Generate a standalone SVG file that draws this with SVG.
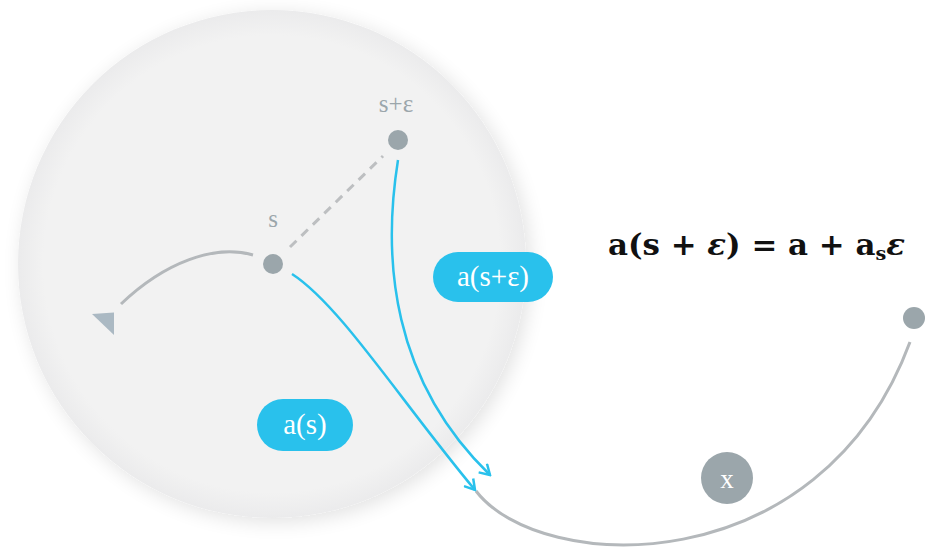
<svg xmlns="http://www.w3.org/2000/svg" width="931" height="547" viewBox="0 0 931 547">
<defs>
<style>
.node{fill:#9ba6ab}
.lbl{font-family:"Liberation Serif",serif;font-size:25px;fill:#9ba6ab;text-anchor:middle}
.pill{fill:#29c1ec}
.ptxt{font-family:"Liberation Serif",serif;font-size:29px;fill:#ffffff;text-anchor:middle}
.blue{fill:none;stroke:#29c1ec;stroke-width:2.5}
.gray{fill:none;stroke:#b4b8bb;stroke-width:3}
</style>
<radialGradient id="g" cx="0.5" cy="0.5" r="0.5">
<stop offset="0.9" stop-color="#f2f2f2"/>
<stop offset="1" stop-color="#ebebec"/>
</radialGradient>
<filter id="sh" x="-20%" y="-20%" width="140%" height="140%">
<feGaussianBlur in="SourceAlpha" stdDeviation="10"/>
<feOffset dx="4" dy="4"/>
<feComponentTransfer><feFuncA type="linear" slope="0.12"/></feComponentTransfer>
<feMerge><feMergeNode/><feMergeNode in="SourceGraphic"/></feMerge>
</filter>
<marker id="ah" markerWidth="14" markerHeight="14" refX="12" refY="7" orient="auto" markerUnits="userSpaceOnUse">
<path d="M2,1 L12,7 L2,13" fill="none" stroke="#29c1ec" stroke-width="2.5"/>
</marker>
</defs>
<rect width="931" height="547" fill="#ffffff"/>
<g id="region">
<circle cx="272" cy="264" r="254" fill="url(#g)" filter="url(#sh)"/>
</g>
<g id="connectors">
<line x1="290" y1="247" x2="383" y2="156" stroke="#bdbfc1" stroke-width="3" stroke-dasharray="9,7"/>
<path class="gray" d="M253,255 C215,244 165,262 121,304"/>
<polygon points="92,314 114,312.5 114,335" fill="#abb9c3"/>
<path class="gray" d="M476,491 C540,575 820,585 910,342"/>
<path class="blue" d="M292,274 C340,305 400,400 475,490" marker-end="url(#ah)"/>
<path class="blue" d="M398,160 C382,260 392,380 490,475" marker-end="url(#ah)"/>
</g>
<g id="node-s">
<circle class="node" cx="273" cy="264" r="10"/>
<text class="lbl" x="273" y="227">s</text>
</g>
<g id="node-s-eps">
<circle class="node" cx="398" cy="140" r="10"/>
<text class="lbl" x="396" y="112">s+ε</text>
</g>
<g id="pill-a-s-eps">
<rect class="pill" x="433" y="252" width="120" height="50" rx="25"/>
<text class="ptxt" x="493" y="286">a(s+ε)</text>
</g>
<g id="pill-a-s">
<rect class="pill" x="257" y="399" width="96" height="52" rx="26"/>
<text class="ptxt" x="305" y="434">a(s)</text>
</g>
<g id="node-x">
<circle class="node" cx="727" cy="478" r="26"/>
<text class="ptxt" x="727" y="488" style="font-size:27px">x</text>
</g>
<g id="node-end">
<circle class="node" cx="914" cy="318" r="11"/>
</g>
<g id="equation">
<text x="608" y="255" textLength="297" lengthAdjust="spacingAndGlyphs" font-family="'DejaVu Serif',serif" font-size="29" font-weight="bold" fill="#111">a(s + <tspan font-style="italic">ε</tspan>) = a + a<tspan font-size="18" dy="5">s</tspan><tspan dy="-5" font-style="italic">ε</tspan></text>
</g>
</svg>
